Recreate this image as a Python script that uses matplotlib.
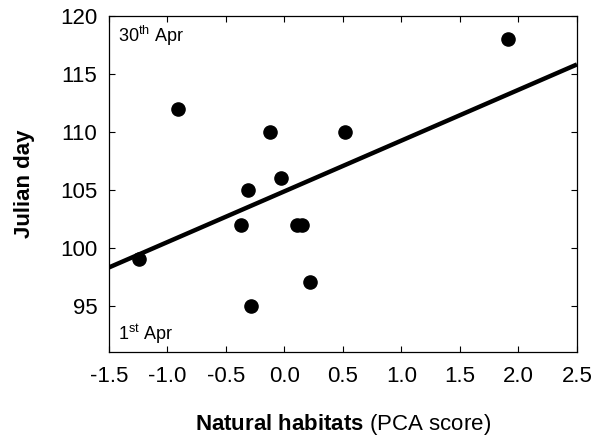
import numpy as np
import matplotlib
matplotlib.use('Agg')
import matplotlib.pyplot as plt

plt.rcParams['font.family'] = ['Liberation Sans', 'DejaVu Sans']
plt.rcParams['mathtext.fontset'] = 'custom'
plt.rcParams['mathtext.rm'] = 'Liberation Sans'
plt.rcParams['mathtext.it'] = 'Liberation Sans:italic'
plt.rcParams['mathtext.bf'] = 'Liberation Sans:bold'

# natural habitats PCA score vs julian day
pca_score = [-1.24, -0.91, -0.37, -0.31, -0.29, -0.12, -0.03, 0.11, 0.15, 0.22, 0.52, 1.91]
julian_day = [99, 112, 102, 105, 95, 110, 106, 102, 102, 97, 110, 118]

# regression line
intercept = 104.87
slope = 4.38

xticks = [-1.5, -1.0, -0.5, 0.0, 0.5, 1.0, 1.5, 2.0, 2.5]
yticks = [95, 100, 105, 110, 115, 120]

fig = plt.figure(figsize=(5.95, 4.41), dpi=100)
ax = fig.add_axes([0.1832, 0.2018, 0.7865, 0.7619])

xl = np.array([-1.5, 2.5])
ax.plot(xl, intercept + slope * xl, color='black', lw=3.2, zorder=2, solid_capstyle='butt')
ax.scatter(pca_score, julian_day, s=90, color='black', zorder=3, clip_on=False)

ax.set_xlim(-1.5, 2.5)
ax.set_ylim(91, 120)
ax.set_xticks(xticks)
ax.set_xticklabels(['%.1f' % v for v in xticks])
ax.set_yticks(yticks)

ax.tick_params(direction='in', length=4.3, width=0.8, top=True, right=True,
               labelsize=16)
ax.tick_params(axis='x', pad=10)
ax.tick_params(axis='y', pad=8.5)
for s in ax.spines.values():
    s.set_linewidth(0.9)

ax.set_xlabel(r'$\mathbf{Natural\ habitats}$ (PCA score)', fontsize=16)
ax.xaxis.set_label_coords(0.5, -0.179)
ax.set_ylabel('Julian day', fontsize=16, fontweight='bold')
ax.yaxis.set_label_coords(-0.158, 0.5)

ax.text(0.019, 0.9235, r'30$^{\rm th}$ Apr', transform=ax.transAxes, fontsize=13)
ax.text(0.019, 0.0357, r'1$^{\rm st}$ Apr', transform=ax.transAxes, fontsize=13)

fig.savefig('out.png', dpi=100)
